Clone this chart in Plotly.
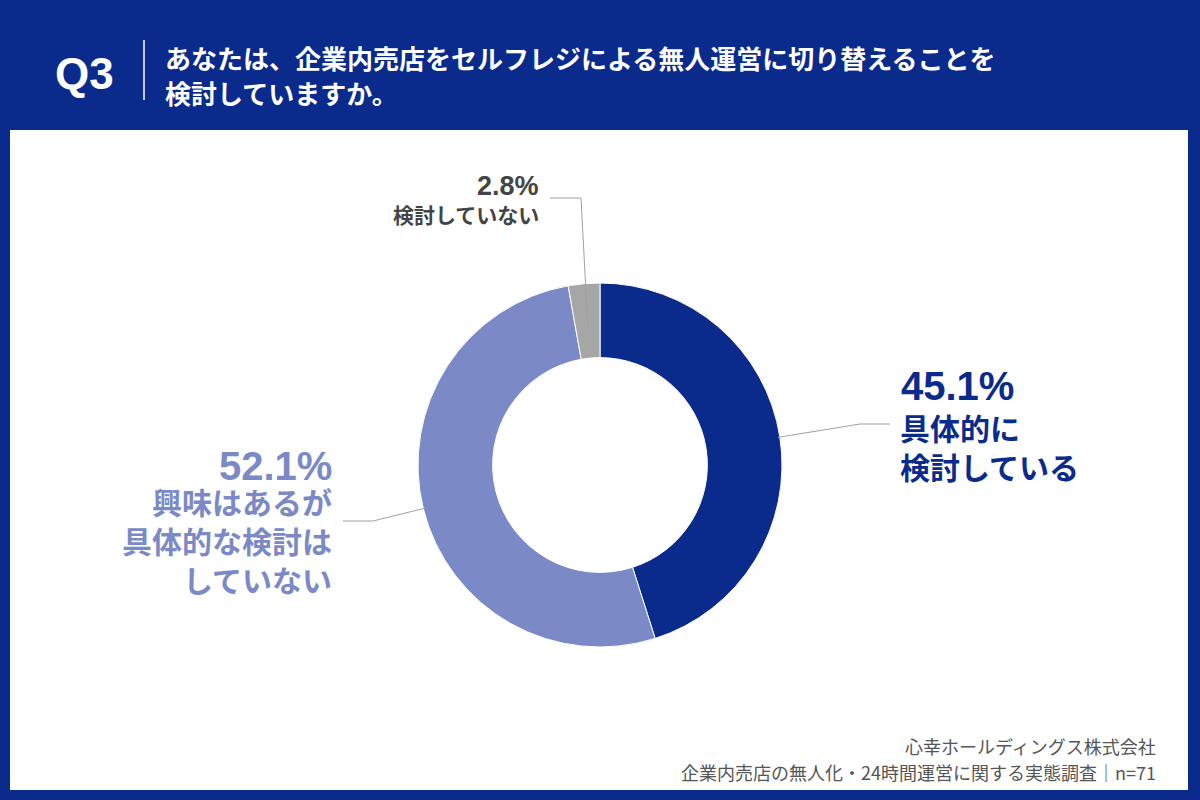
import math
import plotly.graph_objects as go

# ---- data ----
categories = ["具体的に検討している", "興味はあるが具体的な検討はしていない", "検討していない"]
values = [45.1, 52.1, 2.8]
colors = ["#0a2a8c", "#7b8ac6", "#a6a6a6"]
label_pct = ["45.1%", "52.1%", "2.8%"]
label_lines = [["具体的に", "検討している"],
               ["興味はあるが", "具体的な検討は", "していない"],
               ["検討していない"]]
title_lines = ["あなたは、企業内売店をセルフレジによる無人運営に切り替えることを", "検討していますか。"]
footer_lines = ["心幸ホールディングス株式会社", "企業内売店の無人化・24時間運営に関する実態調査｜n=71"]

W, H = 1200, 800
BG = "#0a2a8c"
FONT = "Noto Sans CJK JP"
NUMFONT = "Liberation Sans, Arial, Noto Sans CJK JP"


def px(x):
    return x / W


def py(y):
    return 1 - y / H


cx, cy, R = 600, 465, 182
hole = 0.59

fig = go.Figure()
fig.add_trace(go.Pie(
    labels=categories, values=values, sort=False, direction="clockwise", rotation=0,
    hole=hole, textinfo="none", hoverinfo="none", showlegend=False,
    marker=dict(colors=colors, line=dict(color="white", width=1)),
    domain=dict(x=[px(cx - R), px(cx + R)], y=[py(cy + R), py(cy - R)]),
))

shapes = []
# white panel
shapes.append(dict(type="rect", xref="paper", yref="paper", x0=px(10), x1=px(1188),
                   y0=py(790), y1=py(130), fillcolor="white", line=dict(width=0), layer="below"))
# header separator
shapes.append(dict(type="line", xref="paper", yref="paper", x0=px(144), x1=px(144),
                   y0=py(40), y1=py(100), line=dict(color="white", width=1.5)))

# leader lines computed from slice mid-angles
total = sum(values)
cum = 0
mids = []
for v in values:
    mids.append((cum + v / 2) / total * 2 * math.pi)
    cum += v


def ring_pt(a, r):
    return cx + r * math.sin(a), cy - r * math.cos(a)


LC = "#a0a0a0"
# 45.1%
x0, y0 = ring_pt(mids[0], R - 2)
shapes.append(dict(type="path", xref="paper", yref="paper",
                   path=f"M {px(x0)},{py(y0)} L {px(860)},{py(424)} L {px(890)},{py(424)}",
                   line=dict(color=LC, width=1)))
# 52.1%
x0, y0 = ring_pt(mids[1], R - 2)
shapes.append(dict(type="path", xref="paper", yref="paper",
                   path=f"M {px(x0)},{py(y0)} L {px(373)},{py(521)} L {px(343)},{py(521)}",
                   line=dict(color=LC, width=1)))
# 2.8%
x0, y0 = ring_pt(mids[2], 138)
shapes.append(dict(type="path", xref="paper", yref="paper",
                   path=f"M {px(x0)},{py(y0)} L {px(581)},{py(198)} L {px(550)},{py(198)}",
                   line=dict(color=LC, width=1)))

ann = []


def text(x, y, s, size, color, xanchor="left", weight="bold", family=FONT, align=None):
    ann.append(dict(x=px(x), y=py(y), xref="paper", yref="paper", text=s, showarrow=False,
                    xanchor=xanchor, yanchor="middle", align=align or xanchor,
                    font=dict(family=family, size=size, color=color, weight=weight)))


# header
text(53, 73, "Q3", 44, "white", family=NUMFONT)
text(163, 57, title_lines[0], 26, "white")
text(163, 93, title_lines[1], 26, "white")

# labels
text(899, 386, label_pct[0], 40, colors[0], family=NUMFONT)
text(898, 446, "<br>".join(label_lines[0]), 30, colors[0])

text(334, 466, label_pct[1], 40, colors[1], xanchor="right", family=NUMFONT)
text(334, 540, "<br>".join(label_lines[1]), 30, colors[1], xanchor="right")

text(541, 186, label_pct[2], 27, "#444444", xanchor="right", family=NUMFONT)
text(541, 214, label_lines[2][0], 21, "#444444", xanchor="right")

# footer
text(1158, 746, footer_lines[0], 18, "#555555", xanchor="right", weight="normal")
text(1158, 772, footer_lines[1], 18, "#555555", xanchor="right", weight="normal")

fig.update_layout(
    width=W, height=H, margin=dict(l=0, r=0, t=0, b=0),
    paper_bgcolor=BG, plot_bgcolor=BG,
    shapes=shapes, annotations=ann,
)
fig.write_html("out.html")
